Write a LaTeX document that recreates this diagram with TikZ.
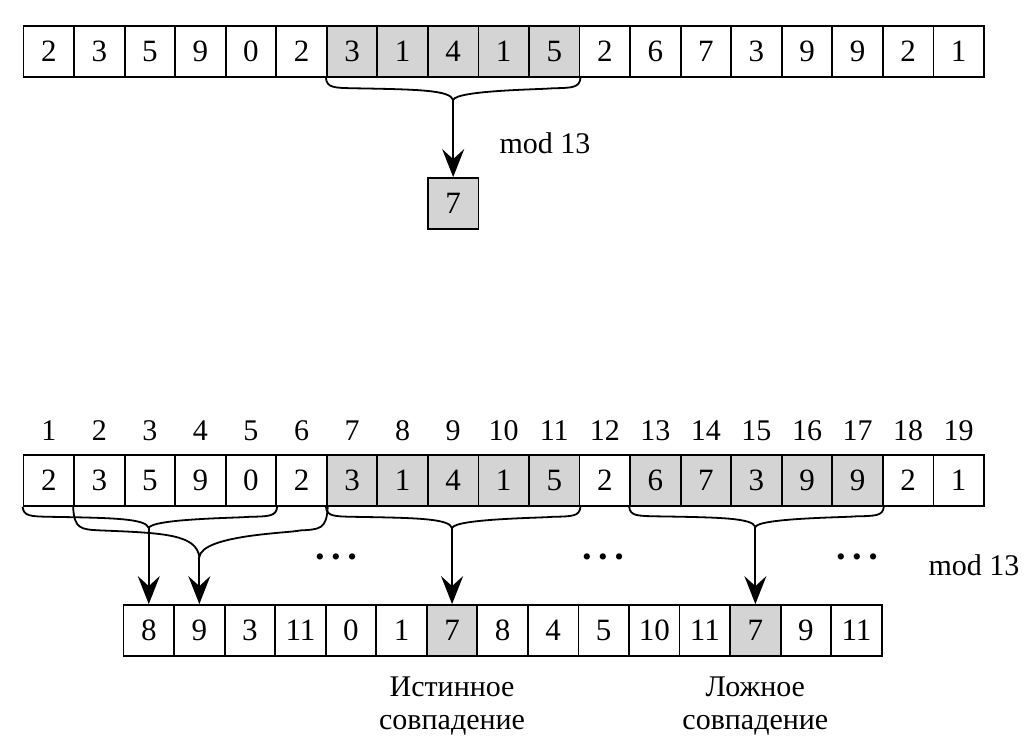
\documentclass[tikz,border=0pt]{standalone}
\usepackage{fontspec}
\setmainfont{Liberation Serif}
\usetikzlibrary{arrows.meta,calc}
\definecolor{shade}{gray}{0.83}
\newcommand{\bracedraw}[3]{%
  \draw[brc] let \p1=(#1), \p2=(#2), \p3=(#3), \n1={\y1-\y3} in
   (\p1) .. controls ({\x1+1pt},{\y1-0.45*\n1}) and ({\x1+8pt},{\y1-0.45*\n1}) .. ({\x1+28pt},{\y1-0.47*\n1})
   .. controls ({\x3-35pt},{\y1-0.52*\n1}) and ({\x3-3pt},{\y1-0.55*\n1}) .. (\p3)
   .. controls ({\x3+3pt},{\y1-0.55*\n1}) and ({\x2-35pt},{\y1-0.52*\n1}) .. ({\x2-28pt},{\y1-0.47*\n1})
   .. controls ({\x2-8pt},{\y1-0.45*\n1}) and ({\x2-1pt},{\y1-0.45*\n1}) .. (\p2);}
\begin{document}
\begin{tikzpicture}[x=1pt,y=-1pt,
  cell/.style={draw, line width=1.8pt, minimum width=50.55pt, minimum height=51pt, inner sep=0pt, font=\fontsize{31}{34}\selectfont},
  txt/.style={font=\fontsize{30}{33}\selectfont, inner sep=0pt},
  brc/.style={line width=1.8pt},
  arr/.style={line width=1.8pt, -{Stealth[length=28pt,width=22pt,inset=10pt]}},
  dots/.style={font=\fontsize{26}{26}\selectfont, inner sep=0pt}]
\useasboundingbox (0,0) rectangle (1034,754);

% top array
\foreach \v/\f [count=\i] in {2/white,3/white,5/white,9/white,0/white,2/white,3/shade,1/shade,4/shade,1/shade,5/shade,2/white,6/white,7/white,3/white,9/white,9/white,2/white,1/white}
  \node[cell,fill=\f] (t\i) at ({23.5+(\i-0.5)*50.55},51.5) {\v};
\node[cell,fill=shade] (m) at (t9 |- 0,203.5) {7};
\coordinate (tT) at (t9.south |- 0,100);
\bracedraw{t7.south west}{t11.south east}{tT}
\draw[arr] (tT) -- (m.north);
\node[txt] (mod1) at (545,143) {mod 13};

% bottom index numbers
\foreach \i in {1,...,19}
  \node[txt] (n\i) at ({23.5+(\i-0.5)*50.55},431) {\i};

% bottom array
\foreach \v/\f [count=\i] in {2/white,3/white,5/white,9/white,0/white,2/white,3/shade,1/shade,4/shade,1/shade,5/shade,2/white,6/shade,7/shade,3/shade,9/shade,9/shade,2/white,1/white}
  \node[cell,fill=\f] (b\i) at ({23.5+(\i-0.5)*50.55},480.5) {\v};

% hash array
\foreach \v/\f [count=\i] in {8/white,9/white,3/white,11/white,0/white,1/white,7/shade,8/white,4/white,5/white,10/white,11/white,7/shade,9/white,11/white}
  \node[cell,fill=\f] (h\i) at ({123.5+(\i-0.5)*50.55},630.5) {\v};

\coordinate (tA) at (h1.north |- 0,528);
\coordinate (tB) at (h2.north |- 0,557);
\coordinate (tC) at (h7.north |- 0,528);
\coordinate (tD) at (h13.north |- 0,527);

\bracedraw{b1.south west}{b5.south east}{tA}
\bracedraw{b2.south west}{b6.south east}{tB}
\bracedraw{b7.south west}{b11.south east}{tC}
\bracedraw{b13.south west}{b17.south east}{tD}

\draw[arr] (tA) -- (h1.north);
\draw[arr] (tB) -- (h2.north);
\draw[arr] (tC) -- (h7.north);
\draw[arr] (tD) -- (h13.north);

\node[dots] (d1) at (336,560) {•\hspace{7pt}•\hspace{7pt}•};
\node[dots] (d2) at (603,560) {•\hspace{7pt}•\hspace{7pt}•};
\node[dots] (d3) at (857,560) {•\hspace{7pt}•\hspace{7pt}•};
\node[txt] (mod2) at (974,565) {mod 13};

\node[txt,align=center] (true) at (h7 |- 0,706) {Истинное\\совпадение};
\node[txt,align=center] (false) at (h13 |- 0,706) {Ложное\\совпадение};
\end{tikzpicture}
\end{document}
